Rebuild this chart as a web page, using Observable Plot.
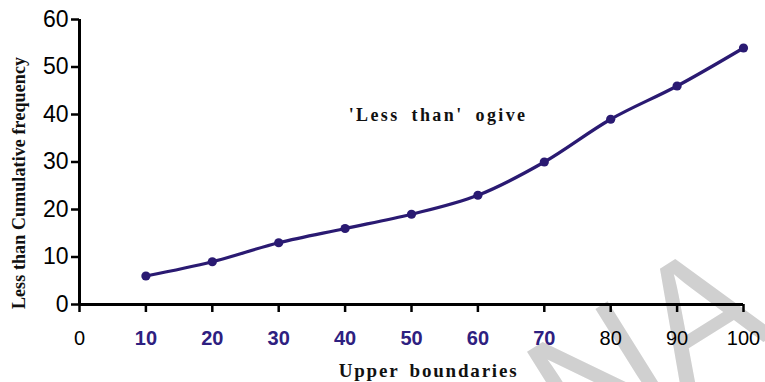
<!DOCTYPE html>
<html>
<head>
<meta charset="utf-8">
<script src="https://cdn.jsdelivr.net/npm/d3@7"></script>
<script src="https://cdn.jsdelivr.net/npm/@observablehq/plot@0.6"></script>
<style>
  html, body { margin: 0; padding: 0; background: #ffffff; overflow: hidden; }
  .ann text { letter-spacing: 2.4px; word-spacing: 5px; }
  .xtitle text { letter-spacing: 1.8px; word-spacing: 4px; }
  .ytitle text { letter-spacing: 0.1px; }
</style>
</head>
<body>
<div id="chart"></div>
<script>
// ---- data ----
const upperBoundaries = [10, 20, 30, 40, 50, 60, 70, 80, 90, 100];
const cumulativeFrequency = [6, 9, 13, 16, 19, 23, 30, 39, 46, 54];
const yTicks = [0, 10, 20, 30, 40, 50, 60];
const xTicksPlain = [0, 80, 90, 100];
const xTicksBold = [10, 20, 30, 40, 50, 60, 70];
const annotationText = ["'Less than' ogive"];
const annotationX = [54];
const annotationY = [39.8];
const xTitle = "Upper boundaries";
const yTitle = "Less than Cumulative frequency";
const watermark = "NA";

const points = upperBoundaries.map((x, i) => ({x, y: cumulativeFrequency[i]}));
const annotations = annotationText.map((t, i) => ({t, x: annotationX[i], y: annotationY[i]}));

const lineColor = "#2a1a72";
const serif = "'Liberation Serif', 'DejaVu Serif', serif";

const chart = Plot.plot({
  width: 765,
  height: 382,
  marginLeft: 79,
  marginRight: 22,
  marginTop: 19,
  marginBottom: 78,
  style: {fontFamily: "'Liberation Sans', Arial, sans-serif", background: "#ffffff", color: "#000"},
  x: {domain: [0, 100]},
  y: {domain: [0, 60]},
  marks: [
    Plot.text([watermark], {
      frameAnchor: "bottom-right", dx: -95, dy: 45, text: d => d,
      fontSize: 170, fill: "#d0d0d0", rotate: -32,
      textAnchor: "middle", lineAnchor: "middle"
    }),
    Plot.axisY(yTicks, {
      tickSize: 8, tickPadding: 3, fontSize: 23, strokeWidth: 2.5,
      label: null, color: "#000"
    }),
    Plot.axisX(xTicksPlain, {
      tickSize: 8, tickPadding: 18, fontSize: 20, strokeWidth: 2.5,
      label: null, color: "#000"
    }),
    Plot.axisX(xTicksBold, {
      tickSize: 8, tickPadding: 18, fontSize: 20, strokeWidth: 2.5,
      label: null, stroke: "#000", fill: "#2e2080", fontWeight: "bold"
    }),
    Plot.ruleX([0], {strokeWidth: 3}),
    Plot.ruleY([0], {strokeWidth: 3}),
    Plot.line(points, {x: "x", y: "y", curve: "catmull-rom", stroke: lineColor, strokeWidth: 3.2}),
    Plot.dot(points, {x: "x", y: "y", r: 4.6, fill: lineColor, stroke: "none"}),
    Plot.text(annotations, {
      x: "x", y: "y", text: "t", fontFamily: serif, fontWeight: "bold",
      fontSize: 18, fill: "#111", textAnchor: "middle", lineAnchor: "middle",
      className: "ann"
    }),
    Plot.text([xTitle], {
      frameAnchor: "bottom", text: d => d, dx: 17, dy: 66,
      fontFamily: serif, fontWeight: "bold", fontSize: 19, fill: "#111",
      lineAnchor: "middle", className: "xtitle"
    }),
    Plot.text([yTitle], {
      frameAnchor: "left", text: d => d, dx: -60, dy: 21, rotate: -90,
      fontFamily: serif, fontWeight: "bold", fontSize: 18, fill: "#111",
      lineAnchor: "middle", textAnchor: "middle", className: "ytitle"
    })
  ]
});
document.getElementById("chart").appendChild(chart);
</script>
</body>
</html>
